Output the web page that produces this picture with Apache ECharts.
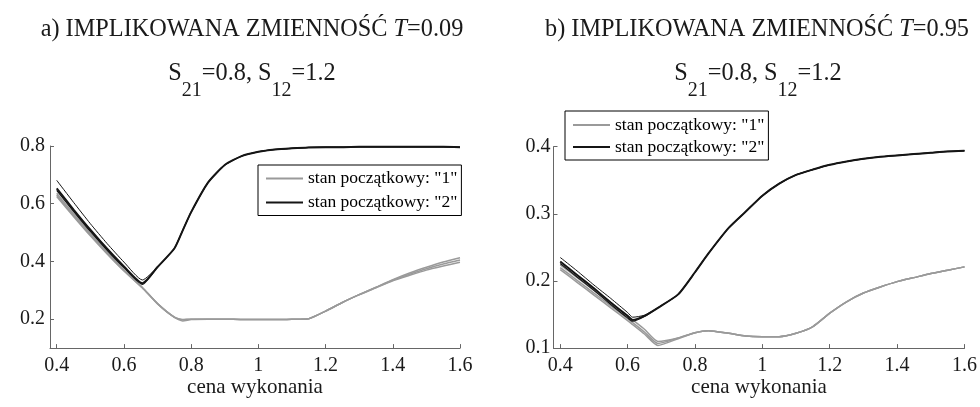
<!DOCTYPE html>
<html><head><meta charset="utf-8">
<script src="https://cdn.jsdelivr.net/npm/echarts@6/dist/echarts.min.js"></script>
<style>html,body{margin:0;padding:0;background:#fff}#c{width:980px;height:407px}</style>
</head><body><div id="c"></div>
<script>
// ---- data ----
const leftX = [0.4,0.45,0.5,0.55,0.6,0.655,0.7,0.75,0.775,0.8,0.85,0.9,0.95,1.0,1.05,1.1,1.15,1.2,1.25,1.3,1.35,1.4,1.45,1.5,1.55,1.6];
const leftState2a = [0.681,0.605,0.531,0.462,0.398,0.336,0.381,0.445,0.508,0.571,0.673,0.734,0.765,0.780,0.788,0.792,0.795,0.796,0.796,0.797,0.797,0.797,0.797,0.797,0.797,0.796];
const leftState2b = [0.653,0.580,0.510,0.444,0.383,0.325,0.381,0.445,0.508,0.571,0.673,0.734,0.765,0.780,0.788,0.792,0.795,0.796,0.796,0.797,0.797,0.797,0.797,0.797,0.797,0.796];
const leftState2c = [0.646,0.574,0.504,0.439,0.379,0.321,0.381,0.445,0.508,0.571,0.673,0.734,0.765,0.780,0.788,0.792,0.795,0.796,0.796,0.797,0.797,0.797,0.797,0.797,0.797,0.796];
const leftState1a = [0.636,0.565,0.497,0.432,0.371,0.310,0.254,0.207,0.199,0.200,0.200,0.200,0.199,0.199,0.199,0.200,0.202,0.228,0.258,0.285,0.311,0.337,0.360,0.380,0.398,0.413];
const leftState1b = [0.630,0.560,0.493,0.429,0.369,0.309,0.254,0.207,0.198,0.200,0.200,0.200,0.199,0.199,0.199,0.200,0.202,0.228,0.258,0.285,0.310,0.335,0.356,0.375,0.391,0.405];
const leftState1c = [0.625,0.556,0.489,0.426,0.367,0.308,0.253,0.206,0.194,0.199,0.200,0.200,0.199,0.199,0.199,0.200,0.202,0.228,0.258,0.285,0.309,0.333,0.352,0.370,0.384,0.397];

const rightX = [0.4,0.45,0.5,0.55,0.6,0.615,0.65,0.69,0.75,0.8,0.84,0.9,0.95,1.0,1.05,1.1,1.15,1.2,1.25,1.3,1.35,1.4,1.45,1.5,1.55,1.6];
const rightState2a = [0.235,0.215,0.194,0.174,0.153,0.146,0.149,0.160,0.180,0.213,0.241,0.279,0.303,0.327,0.345,0.358,0.366,0.373,0.378,0.382,0.385,0.387,0.389,0.391,0.393,0.394];
const rightState2b = [0.229,0.209,0.189,0.168,0.148,0.142,0.148,0.160,0.180,0.213,0.241,0.279,0.303,0.327,0.345,0.358,0.366,0.373,0.378,0.382,0.385,0.387,0.389,0.391,0.393,0.394];
const rightState2c = [0.226,0.206,0.186,0.165,0.145,0.140,0.147,0.160,0.180,0.213,0.241,0.279,0.303,0.327,0.345,0.358,0.366,0.373,0.378,0.382,0.385,0.387,0.389,0.391,0.393,0.394];
const rightState1a = [0.224,0.205,0.186,0.167,0.148,0.142,0.128,0.110,0.115,0.123,0.126,0.122,0.118,0.117,0.117,0.122,0.132,0.152,0.169,0.182,0.191,0.199,0.205,0.211,0.216,0.221];
const rightState1b = [0.220,0.201,0.182,0.163,0.144,0.138,0.124,0.107,0.115,0.123,0.126,0.122,0.118,0.117,0.117,0.122,0.132,0.152,0.169,0.182,0.191,0.199,0.205,0.211,0.216,0.221];
const rightState1c = [0.217,0.198,0.179,0.160,0.141,0.135,0.121,0.104,0.114,0.123,0.126,0.122,0.118,0.117,0.117,0.122,0.132,0.152,0.169,0.182,0.191,0.199,0.205,0.211,0.216,0.221];

const xTicks = [0.4,0.6,0.8,1.0,1.2,1.4,1.6];
const leftYTicks = [0.2,0.4,0.6,0.8];
const rightYTicks = [0.1,0.2,0.3,0.4];
const name1 = 'stan początkowy: "1"';
const name2 = 'stan początkowy: "2"';
const titleLeft = '{m|a) IMPLIKOWANA ZMIENNOŚĆ }{i|T}{m|=0.09}';
const titleRight = '{m|b) IMPLIKOWANA ZMIENNOŚĆ }{i|T}{m|=0.95}';
const subTitle = '{m|S}{s|21}{m|=0.8, S}{s|12}{m|=1.2}';
const xName = 'cena wykonania';

// ---- style ----
const FONT = 'Liberation Serif';
const GRAY = '#9a9a9a';
const BLACK = '#151515';
const AX = '#666666';
const TXT = '#1a1a1a';

const fmt = v => String(parseFloat((+v).toFixed(2)));
const pairs = (xs, ys) => xs.map((x, i) => [x, ys[i]]);

function titleOpt(text, left, top) {
  const base = { fontFamily: FONT, fontSize: 24.3, color: TXT };
  return {
    text, left, top, textAlign: 'center', textVerticalAlign: 'top', padding: 0,
    textStyle: {
      fontFamily: FONT, fontSize: 24.3, fontWeight: 'normal', color: TXT,
      rich: {
        m: Object.assign({}, base, { lineHeight: 24, verticalAlign: 'top' }),
        i: Object.assign({}, base, { fontStyle: 'italic', lineHeight: 24, verticalAlign: 'top' }),
        s: { fontFamily: FONT, fontSize: 20, color: TXT, lineHeight: 58, verticalAlign: 'middle' }
      }
    }
  };
}

function xAxisOpt(gi) {
  return {
    type: 'value', gridIndex: gi, min: 0.38, max: 1.6,
    name: xName, nameLocation: 'middle', nameGap: 29,
    nameTextStyle: { fontFamily: FONT, fontSize: 21, color: TXT },
    axisLine: { lineStyle: { color: AX, width: 1 } },
    axisTick: { inside: true, length: 4, lineStyle: { color: AX }, customValues: xTicks },
    axisLabel: { customValues: xTicks, formatter: fmt, margin: 8, fontFamily: FONT, fontSize: 20, color: TXT },
    splitLine: { show: false }
  };
}
function yAxisOpt(gi, min, max, ticks, margin) {
  return {
    type: 'value', gridIndex: gi, min, max,
    axisLine: { show: true, lineStyle: { color: AX, width: 1 } },
    axisTick: { show: true, inside: true, length: 4, lineStyle: { color: AX }, customValues: ticks },
    axisLabel: { customValues: ticks, formatter: fmt, margin, fontFamily: FONT, fontSize: 20, color: TXT },
    splitLine: { show: false }
  };
}
function line(name, xs, ys, gi, color, width) {
  return {
    type: 'line', name, xAxisIndex: gi, yAxisIndex: gi,
    data: pairs(xs, ys), symbol: 'none', showSymbol: false, smooth: 0.2,
    lineStyle: { color, width }, itemStyle: { color }, emphasis: { disabled: true }, z: 2
  };
}
function legendOpt(left, top, gap, padTop) {
  return {
    orient: 'vertical', left, top, itemGap: gap, itemWidth: 37, itemHeight: 2, icon: 'rect',
    padding: [padTop, 4, 4, 8], borderColor: '#000', borderWidth: 1, borderRadius: 0, backgroundColor: '#fff',
    textStyle: { fontFamily: FONT, fontSize: 17.5, color: '#000' },
    selectedMode: false,
    data: [{ name: name1, itemStyle: { color: GRAY } }, { name: name2, itemStyle: { color: BLACK } }]
  };
}

const chart = echarts.init(document.getElementById('c'), null, { renderer: 'canvas' });
chart.setOption({
  animation: false,
  backgroundColor: '#fff',
  title: [
    titleOpt(titleLeft, 252, 18),
    titleOpt(subTitle, 252, 61.5),
    titleOpt(titleRight, 757, 18),
    titleOpt(subTitle, 758, 61.5)
  ],
  legend: [legendOpt(258, 165, 6, 4.5), legendOpt(565, 111, 4, 5)],
  grid: [
    { left: 50, top: 146, width: 410, height: 209, containLabel: false },
    { left: 553.5, top: 146.7, width: 411.5, height: 208.3, containLabel: false }
  ],
  xAxis: [xAxisOpt(0), xAxisOpt(1)],
  yAxis: [yAxisOpt(0, 0.1, 0.8, leftYTicks, 5), yAxisOpt(1, 0.1, 0.4, rightYTicks, 3)],
  series: [
    line(name1, leftX, leftState1a, 0, GRAY, 1.5),
    line(name1, leftX, leftState1b, 0, GRAY, 1.5),
    line(name1, leftX, leftState1c, 0, GRAY, 1.5),
    line(name2, leftX, leftState2a, 0, BLACK, 1),
    line(name2, leftX, leftState2c, 0, BLACK, 1.2),
    line(name2, leftX, leftState2b, 0, BLACK, 2),
    line(name1, rightX, rightState1a, 1, GRAY, 1.5),
    line(name1, rightX, rightState1b, 1, GRAY, 1.5),
    line(name1, rightX, rightState1c, 1, GRAY, 1.5),
    line(name2, rightX, rightState2a, 1, BLACK, 1),
    line(name2, rightX, rightState2c, 1, BLACK, 1.2),
    line(name2, rightX, rightState2b, 1, BLACK, 2)
  ]
});
</script></body></html>
